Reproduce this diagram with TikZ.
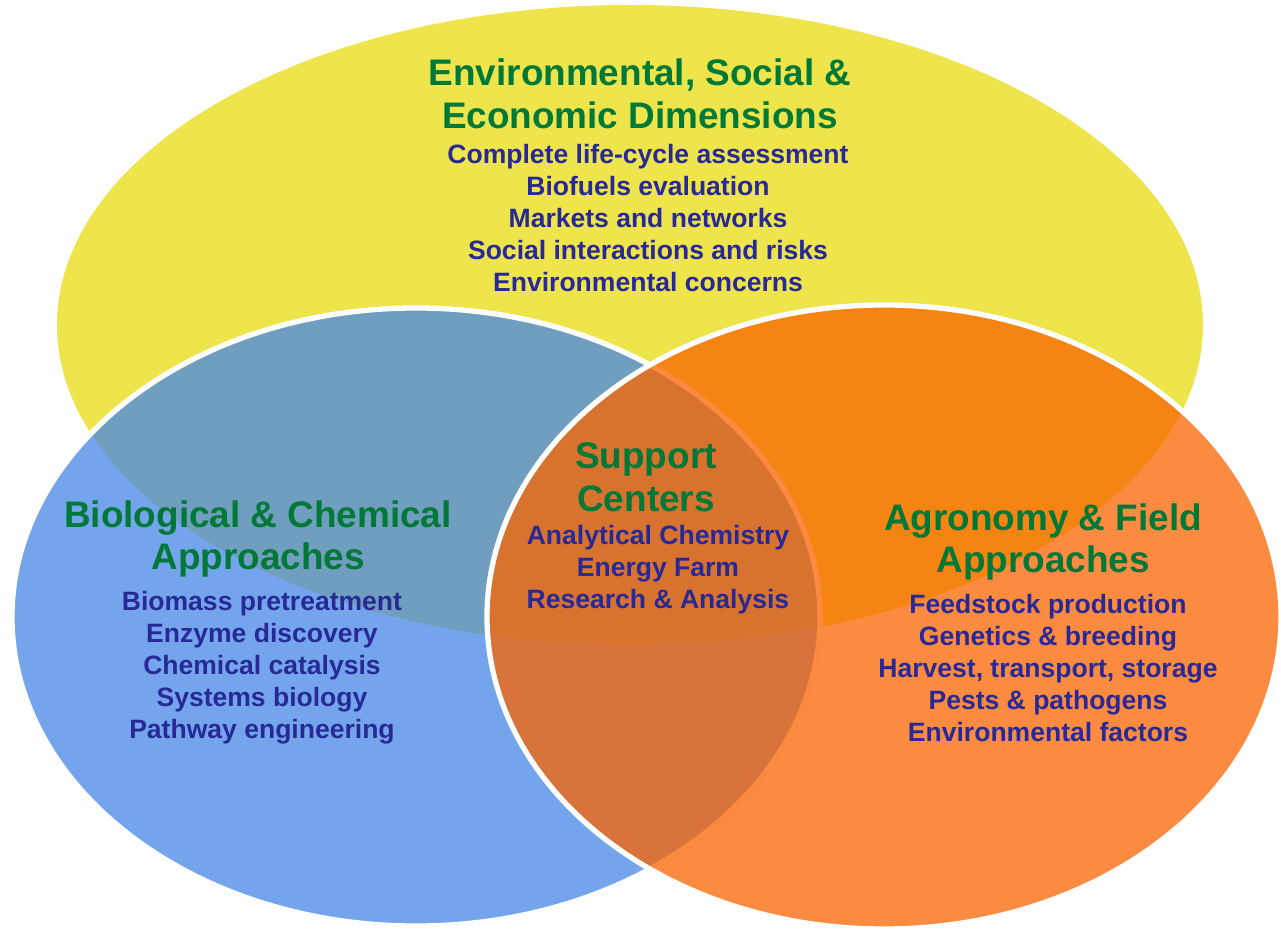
\documentclass[tikz,border=0pt]{standalone}
\usepackage{fontspec}
\setmainfont{Liberation Sans}
\usetikzlibrary{positioning}
\definecolor{venyellow}{RGB}{238,228,75}
\definecolor{venblue}{RGB}{70,135,230}
\definecolor{venorange}{RGB}{250,100,0}
\definecolor{headgreen}{RGB}{0,120,55}
\definecolor{itemblue}{RGB}{40,40,150}
\tikzset{
  head/.style={text=headgreen, font=\fontsize{10.5}{12.2}\selectfont\bfseries, align=center, inner sep=0pt},
  items/.style={text=itemblue, font=\fontsize{7.55}{9.1}\selectfont\bfseries, align=center, inner sep=0pt},
}
\begin{document}
\begin{tikzpicture}
            \useasboundingbox (0,0) rectangle (12.81,9.32);
            \fill[venyellow] (6.30,6.07) ellipse (5.73cm and 3.20cm);
            \draw[fill=venblue, fill opacity=0.75, draw=white, line width=1.5pt] (4.16,3.15) ellipse (4.04cm and 3.09cm);
            \draw[fill=venorange, fill opacity=0.75, draw=white, line width=1.5pt] (8.84,3.15) ellipse (3.97cm and 3.12cm);


            \node[head] (envhead) at (6.40,8.38) {Environmental, Social \&\\Economic Dimensions};
            \node[items, below=0.14 of envhead, xshift=0.08cm] (envlist) {Complete life-cycle assessment\\Biofuels evaluation\\Markets and networks\\Social interactions and risks\\Environmental concerns};
            \node[head] (biohead) at (2.58,3.93) {Biological \& Chemical\\Approaches};
            \node[items, below=0.12 of biohead, xshift=0.04cm] (biolist) {Biomass pretreatment\\Enzyme discovery\\Chemical catalysis\\Systems biology\\Pathway engineering};
            \node[head] (supphead) at (6.46,4.55) {Support\\Centers};
            \node[items, below=0.12 of supphead, xshift=0.12cm] (supplist) {Analytical Chemistry\\Energy Farm\\Research \& Analysis};
            \node[head] (agrohead) at (10.43,3.90) {Agronomy \& Field\\Approaches};
            \node[items, below=0.12 of agrohead, xshift=0.05cm] (agrolist) {Feedstock production\\Genetics \& breeding\\Harvest, transport, storage\\Pests \& pathogens\\Environmental factors};
        \end{tikzpicture}
\end{document}
